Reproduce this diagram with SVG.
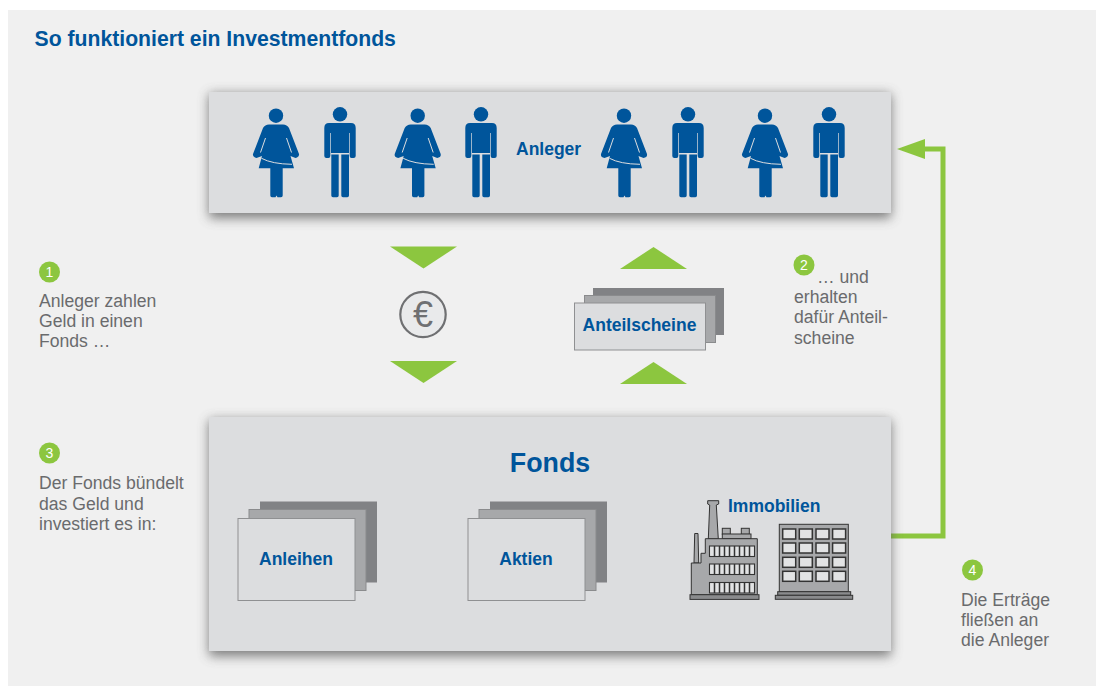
<svg xmlns="http://www.w3.org/2000/svg" width="1096" height="687" viewBox="0 0 1096 687">
<style>
text{font-family:"Liberation Sans",Arial,sans-serif}
.b{font-weight:bold;fill:#00559b}
.g{font-size:17.600px;fill:#6a6b6d}
.n{font-size:14px;fill:#fff;text-anchor:middle}
.c{fill:#8cc63f}
.panel{fill:#dcdddf}
.p{fill:#00559b}
.l{fill:none;stroke:#dcdddf;stroke-width:1}
.d{stroke:#333;stroke-width:1}
.m{fill:#a7a8aa}
.w{fill:#e2e3e4;stroke:#333;stroke-width:1.500}
</style>
<defs>
<filter id="s" x="-5%" y="-20%" width="110%" height="140%"><feGaussianBlur stdDeviation="6"/></filter>
<g id="woman">
<circle cy="115.700" r="7.200" class="p"/>
<path class="p" d="M-7 124.500H7Q11 124.500 13 128L23 154Q23.500 156.500 21 157.500L19.500 158L14.500 156L18 168.300H6.700V195.500Q6.700 197.300 5 197.300H1.500L.5 195.500L-.5 197.300H-4Q-5.700 197.300-5.700 195.500V168.300H-17.300L-14 156L-19.500 158L-21 157.500Q-23.500 156.500-23 154L-13 128Q-11 124.500-7 124.500Z"/>
<path class="l" d="M-14.500 158.300Q-4 164 16 164.300M-10.500 138L-15.500 152.500M10.500 138L15.500 152.500"/>
</g>
<g id="man">
<circle cy="114.300" r="7.200" class="p"/>
<path class="p" d="M-11 123H11Q15.700 123 15.700 128V156Q15.700 158 13.500 158H11.500Q9.700 158 9.700 156V133H9V153H-9V133H-9.700V156Q-9.700 158-11.500 158H-13.500Q-15.700 158-15.700 156V128Q-15.700 123-11 123Z"/>
<path class="p" d="M-8.700 154.500H-1.300V195.500Q-1.300 197.300-3 197.300H-7Q-8.700 197.300-8.700 195.500ZM1.300 154.500H9V195.500Q9 197.300 7.300 197.300H3Q1.300 197.300 1.300 195.500Z"/>
</g>
<g id="stack">
<rect x="22" y="0" width="117" height="81" fill="#818285"/>
<rect x="11" y="8" width="117" height="81" fill="#a7a8aa" stroke="#8a8b8d"/>
<rect x="0" y="17" width="117" height="82" fill="#dcdddf" stroke="#8f9092"/>
</g>
<path id="down" class="c" d="M0 0H67L33.500 22Z"/>
<path id="up" class="c" d="M0 22H67L33.500 0Z"/>
</defs>
<rect width="1096" height="687" fill="#fff"/>
<rect x="8" y="10" width="1088" height="676" fill="#f0f0f0"/>
<text id="title" class="b" x="34.500" y="46" font-size="21.200">So funktioniert ein Investmentfonds</text>

<g id="connectors">
<path d="M891 536H943V149H925" fill="none" stroke="#8cc63f" stroke-width="5"/>
<path class="c" d="M897 149L925 139V159Z"/>
<use href="#down" x="390" y="246.500"/>
<use href="#down" x="390" y="361"/>
<use href="#up" x="620" y="247"/>
<use href="#up" x="620" y="362"/>
</g>

<g id="anleger">
<rect x="209" y="94" width="682" height="124" fill="#555" filter="url(#s)" opacity=".75"/>
<rect class="panel" x="209" y="92" width="682" height="121"/>
<use href="#woman" x="276"/><use href="#man" x="340"/>
<use href="#woman" x="417.700"/><use href="#man" x="481"/>
<use href="#woman" x="624"/><use href="#man" x="688"/>
<use href="#woman" x="765"/><use href="#man" x="829"/>
<text class="b" x="516" y="155" font-size="17.500">Anleger</text>
</g>

<g id="euro">
<circle cx="423" cy="314.500" r="22.700" fill="#e9eaeb" stroke="#6f7072" stroke-width="2.200"/>
<text x="423" y="327" font-size="36" fill="#6f7072" text-anchor="middle">€</text>
</g>

<g id="anteilscheine">
<rect x="593" y="288" width="131" height="47" fill="#818285"/>
<rect x="584.500" y="295.500" width="131" height="47" fill="#a7a8aa" stroke="#8a8b8d"/>
<rect x="574.500" y="303" width="131" height="47" fill="#dcdddf" stroke="#8f9092"/>
<text class="b" x="639.500" y="331" font-size="17.500" text-anchor="middle">Anteilscheine</text>
</g>

<g id="fonds">
<rect x="209" y="420" width="682" height="236" fill="#555" filter="url(#s)" opacity=".75"/>
<rect class="panel" x="209" y="417" width="682" height="234"/>
<text class="b" x="550" y="472" font-size="26.800" text-anchor="middle">Fonds</text>
</g>

<g id="anleihen">
<use href="#stack" x="238" y="501.500"/>
<text class="b" x="296" y="565" font-size="17.500" text-anchor="middle">Anleihen</text>
</g>
<g id="aktien">
<use href="#stack" x="468" y="501.500"/>
<text class="b" x="526" y="565" font-size="17.500" text-anchor="middle">Aktien</text>
</g>

<g id="immobilien">
<text class="b" x="728" y="512" font-size="17.500">Immobilien</text>
<g class="m d">
<path d="M708.300 539L709.700 505L707.700 504V500.700H718.700V504L716.300 505L718.300 539Z"/>
<path d="M694 563L694.700 533.500H698L698.700 563Z"/>
<rect x="722.300" y="528.300" width="8" height="6"/>
<rect x="741.300" y="528.300" width="8" height="6"/>
<rect x="722.300" y="534" width="28.700" height="4.700"/>
<path d="M691.300 594.700V563H701V553.300H705.300V538.700H757.300V594.700Z"/>
<rect x="690" y="594.700" width="69" height="4.700" fill="#8a8b8d"/>
</g>
<g fill="#e2e3e4" stroke="#333" stroke-width="1.100">
<rect x="709.500" y="546" width="45" height="10.500"/>
<rect x="709.500" y="564" width="45" height="10.500"/>
<rect x="709.500" y="582.500" width="45" height="10.500"/>
</g>
<path stroke="#333" stroke-width="1.500" d="M714.500 546v10.500M719.500 546v10.500M724.500 546v10.500M729.500 546v10.500M734.500 546v10.500M739.500 546v10.500M744.500 546v10.500M749.500 546v10.500M714.500 564v10.500M719.500 564v10.500M724.500 564v10.500M729.500 564v10.500M734.500 564v10.500M739.500 564v10.500M744.500 564v10.500M749.500 564v10.500M714.500 582.500v10.500M719.500 582.500v10.500M724.500 582.500v10.500M729.500 582.500v10.500M734.500 582.500v10.500M739.500 582.500v10.500M744.500 582.500v10.500M749.500 582.500v10.500"/>
<g class="m d">
<rect x="779.300" y="524.300" width="69" height="67.400"/>
<rect x="777.700" y="591.700" width="73" height="3.600" fill="#8a8b8d"/>
<rect x="775.300" y="595.300" width="77.400" height="4" fill="#8a8b8d"/>
</g>
<g class="w">
<rect x="782.700" y="529" width="13" height="10"/><rect x="799.300" y="529" width="13" height="10"/><rect x="816" y="529" width="13" height="10"/><rect x="832.600" y="529" width="13" height="10"/>
<rect x="782.700" y="543" width="13" height="10"/><rect x="799.300" y="543" width="13" height="10"/><rect x="816" y="543" width="13" height="10"/><rect x="832.600" y="543" width="13" height="10"/>
<rect x="782.700" y="557.300" width="13" height="10"/><rect x="799.300" y="557.300" width="13" height="10"/><rect x="816" y="557.300" width="13" height="10"/><rect x="832.600" y="557.300" width="13" height="10"/>
<rect x="782.700" y="571.300" width="13" height="10"/><rect x="799.300" y="571.300" width="13" height="10"/><rect x="816" y="571.300" width="13" height="10"/><rect x="832.600" y="571.300" width="13" height="10"/>
</g>
</g>

<g id="note1">
<circle class="c" cx="49.500" cy="272" r="10.500"/>
<text class="n" x="49.500" y="277">1</text>
<text class="g"><tspan x="39" y="307">Anleger zahlen</tspan><tspan x="39" y="327">Geld in einen</tspan><tspan x="39" y="347">Fonds …</tspan></text>
</g>
<g id="note2">
<circle class="c" cx="804" cy="265" r="10.500"/>
<text class="n" x="804" y="270">2</text>
<text class="g"><tspan x="817" y="283">… und</tspan><tspan x="794" y="303">erhalten</tspan><tspan x="794" y="323">dafür Anteil-</tspan><tspan x="794" y="344">scheine</tspan></text>
</g>
<g id="note3">
<circle class="c" cx="49.500" cy="453" r="10.500"/>
<text class="n" x="49.500" y="458">3</text>
<text class="g"><tspan x="39" y="489">Der Fonds bündelt</tspan><tspan x="39" y="510">das Geld und</tspan><tspan x="39" y="530">investiert es in:</tspan></text>
</g>
<g id="note4">
<circle class="c" cx="972.500" cy="570" r="10.500"/>
<text class="n" x="972.500" y="575">4</text>
<text class="g"><tspan x="961" y="606">Die Erträge</tspan><tspan x="961" y="626">fließen an</tspan><tspan x="961" y="646">die Anleger</tspan></text>
</g>
</svg>
